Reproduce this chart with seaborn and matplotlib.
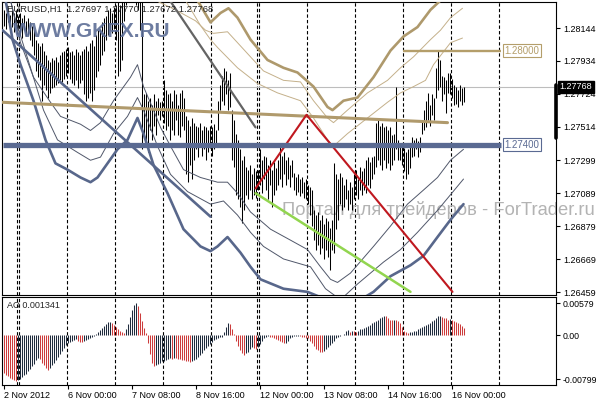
import numpy as np
import matplotlib
matplotlib.use("Agg")
import matplotlib.pyplot as plt
import matplotlib.transforms as mtrans
import seaborn as sns

# EURUSD H1, 2 Nov 2012 - 16 Nov 2012 (bar index = hour bar)
highs = [
    1.2826, 1.2824, 1.2827, 1.2823, 1.2826, 1.2824, 1.2826, 1.2822, 1.2824, 1.2821,
    1.2823, 1.2819, 1.2821, 1.2818, 1.2816, 1.2813, 1.2807, 1.2805, 1.2803, 1.2805,
    1.2800, 1.2797, 1.2794, 1.2793, 1.2795, 1.2794, 1.2796, 1.2793, 1.2797, 1.2799,
    1.2800, 1.2801, 1.2802, 1.2799, 1.2800, 1.2797, 1.2801, 1.2799, 1.2797, 1.2800,
    1.2801, 1.2803, 1.2800, 1.2805, 1.2807, 1.2803, 1.2810, 1.2813, 1.2814, 1.2818,
    1.2821, 1.2822, 1.2826, 1.2827, 1.2824, 1.2828, 1.2829, 1.2831, 1.2829, 1.2832,
    1.2838, 1.2845, 1.2851, 1.2857, 1.2854, 1.2851, 1.2848, 1.2845, 1.2842, 1.2835,
    1.2772, 1.2773, 1.2768, 1.2770, 1.2765, 1.2772, 1.2768, 1.2770, 1.2767, 1.2768,
    1.2781, 1.2775, 1.2772, 1.2773, 1.2768, 1.2775, 1.2772, 1.2765, 1.2773, 1.2775,
    1.2770, 1.2758, 1.2756, 1.2752, 1.2757, 1.2754, 1.2752, 1.2751, 1.2754, 1.2749,
    1.2752, 1.2751, 1.2749, 1.2752, 1.2751, 1.2753, 1.2749, 1.2768, 1.2778, 1.2784,
    1.2789, 1.2787, 1.2781, 1.2786, 1.2762, 1.2756, 1.2747, 1.2743, 1.2737, 1.2730,
    1.2733, 1.2726, 1.2724, 1.2727, 1.2721, 1.2725, 1.2723, 1.2724, 1.2737, 1.2730,
    1.2733, 1.2732, 1.2727, 1.2730, 1.2724, 1.2729, 1.2725, 1.2730, 1.2739, 1.2733,
    1.2735, 1.2730, 1.2732, 1.2727, 1.2730, 1.2722, 1.2719, 1.2721, 1.2718, 1.2719,
    1.2716, 1.2718, 1.2714, 1.2713, 1.2711, 1.2698, 1.2695, 1.2697, 1.2692, 1.2695,
    1.2689, 1.2693, 1.2691, 1.2687, 1.2692, 1.2728, 1.2721, 1.2718, 1.2722, 1.2719,
    1.2714, 1.2718, 1.2711, 1.2716, 1.2713, 1.2721, 1.2724, 1.2718, 1.2726, 1.2723,
    1.2725, 1.2730, 1.2732, 1.2729, 1.2732, 1.2733, 1.2754, 1.2756, 1.2752, 1.2754,
    1.2751, 1.2752, 1.2749, 1.2751, 1.2746, 1.2747, 1.2777, 1.2743, 1.2741, 1.2740,
    1.2738, 1.2735, 1.2737, 1.2740, 1.2745, 1.2743, 1.2744, 1.2742, 1.2745, 1.2756,
    1.2762, 1.2768, 1.2773, 1.2765, 1.2772, 1.2770, 1.2789, 1.2800, 1.2794, 1.2784,
    1.2783, 1.2781, 1.2786, 1.2786, 1.2782, 1.2778, 1.2777, 1.2775, 1.2778, 1.2776,
    1.2777,
]
lows = [
    1.2816, 1.2814, 1.2818, 1.2813, 1.2815, 1.2812, 1.2817, 1.2813, 1.2810, 1.2808,
    1.2813, 1.2809, 1.2810, 1.2807, 1.2803, 1.2797, 1.2787, 1.2783, 1.2781, 1.2768,
    1.2778, 1.2775, 1.2770, 1.2773, 1.2776, 1.2777, 1.2778, 1.2779, 1.2781, 1.2780,
    1.2782, 1.2784, 1.2786, 1.2782, 1.2779, 1.2778, 1.2781, 1.2776, 1.2779, 1.2781,
    1.2772, 1.2768, 1.2770, 1.2773, 1.2768, 1.2775, 1.2783, 1.2787, 1.2791, 1.2797,
    1.2800, 1.2807, 1.2810, 1.2813, 1.2811, 1.2814, 1.2807, 1.2784, 1.2787, 1.2794,
    1.2819, 1.2829, 1.2832, 1.2835, 1.2835, 1.2832, 1.2829, 1.2826, 1.2813, 1.2737,
    1.2746, 1.2740, 1.2735, 1.2749, 1.2743, 1.2752, 1.2746, 1.2759, 1.2756, 1.2758,
    1.2754, 1.2749, 1.2752, 1.2743, 1.2749, 1.2746, 1.2756, 1.2746, 1.2745, 1.2752,
    1.2749, 1.2721, 1.2716, 1.2727, 1.2718, 1.2730, 1.2737, 1.2732, 1.2740, 1.2733,
    1.2737, 1.2730, 1.2735, 1.2738, 1.2733, 1.2737, 1.2740, 1.2749, 1.2762, 1.2768,
    1.2765, 1.2772, 1.2762, 1.2764, 1.2730, 1.2726, 1.2708, 1.2705, 1.2700, 1.2690,
    1.2698, 1.2708, 1.2705, 1.2711, 1.2705, 1.2708, 1.2706, 1.2711, 1.2714, 1.2709,
    1.2718, 1.2711, 1.2705, 1.2714, 1.2700, 1.2708, 1.2711, 1.2714, 1.2718, 1.2713,
    1.2721, 1.2714, 1.2718, 1.2713, 1.2719, 1.2711, 1.2708, 1.2710, 1.2707, 1.2709,
    1.2706, 1.2705, 1.2702, 1.2695, 1.2688, 1.2679, 1.2673, 1.2676, 1.2670, 1.2674,
    1.2667, 1.2673, 1.2668, 1.2660, 1.2673, 1.2671, 1.2686, 1.2692, 1.2702, 1.2698,
    1.2700, 1.2705, 1.2698, 1.2702, 1.2698, 1.2705, 1.2708, 1.2705, 1.2711, 1.2708,
    1.2711, 1.2709, 1.2714, 1.2712, 1.2718, 1.2721, 1.2726, 1.2730, 1.2727, 1.2724,
    1.2730, 1.2725, 1.2728, 1.2724, 1.2727, 1.2730, 1.2737, 1.2730, 1.2730, 1.2727,
    1.2723, 1.2718, 1.2721, 1.2725, 1.2732, 1.2733, 1.2737, 1.2732, 1.2735, 1.2747,
    1.2749, 1.2751, 1.2756, 1.2752, 1.2759, 1.2756, 1.2770, 1.2775, 1.2777, 1.2768,
    1.2772, 1.2760, 1.2773, 1.2772, 1.2770, 1.2765, 1.2766, 1.2764, 1.2768, 1.2765,
    1.2767,
]

# Awesome Oscillator per bar
ao_values = [
    -0.0069, -0.0072, -0.0075, -0.0078, -0.0080, -0.0082, -0.0083, -0.0082,
    -0.0080, -0.0077, -0.0073, -0.0070, -0.0066, -0.0061, -0.0057, -0.0052, -0.0046, -0.0041,
    -0.0044, -0.0050, -0.0055, -0.0060, -0.0064,
    -0.0060, -0.0055, -0.0050, -0.0045, -0.0040, -0.0034, -0.0029, -0.0024, -0.0019, -0.0015,
    -0.0012, -0.0010, -0.0009, -0.0008, -0.0010, -0.0012, -0.0013, -0.0011,
    -0.0009, -0.0007, -0.0005, -0.0003, -0.0001,
    0.0002, 0.0005, 0.0009, 0.0013, 0.0017, 0.0020, 0.0023, 0.0024,
    0.0022, 0.0018, 0.0014, 0.0010, 0.0007, 0.0005, 0.0004,
    0.0010, 0.0020, 0.0032, 0.0045, 0.0055, 0.0058,
    0.0052, 0.0040, 0.0025, 0.0012, 0.0004,
    -0.0015, -0.0035, -0.0050, -0.0056,
    -0.0054, -0.0052, -0.0050, -0.0048, -0.0047, -0.0045, -0.0044, -0.0042, -0.0043, -0.0041,
    -0.0042, -0.0043, -0.0044, -0.0045, -0.0046, -0.0047, -0.0048, -0.0049, -0.0048, -0.0046,
    -0.0043, -0.0040, -0.0036, -0.0032, -0.0028, -0.0024, -0.0020, -0.0016, -0.0012, -0.0009,
    -0.0007, -0.0005, -0.0004, -0.0003,
    0.0005, 0.0014, 0.0022, 0.0020, 0.0010, 0.0002,
    -0.0010, -0.0020, -0.0028, -0.0033, -0.0036,
    -0.0033, -0.0030, -0.0026, -0.0022, -0.0024, -0.0026, -0.0021, -0.0016, -0.0010,
    -0.0005, -0.0003, -0.0002, -0.0003, -0.0004,
    -0.0005, -0.0007, -0.0009, -0.0011, -0.0013, -0.0015, -0.0015,
    -0.0010, -0.0006, -0.0003, -0.0002, -0.0001, -0.0001,
    -0.0002, -0.0003, -0.0004, -0.0005, -0.0006,
    -0.0010, -0.0015, -0.0020, -0.0025, -0.0028, -0.0030, -0.0031,
    -0.0029, -0.0026, -0.0022, -0.0018, -0.0014, -0.0010, -0.0006, -0.0003, -0.0001,
    0.0000, 0.0001,
    0.0007, 0.0009, 0.0006, 0.0008, 0.0007,
    0.0006, 0.0008, 0.0010, 0.0011, 0.0013, 0.0015, 0.0017, 0.0019, 0.0021, 0.0023,
    0.0025, 0.0027, 0.0030, 0.0033, 0.0035,
    0.0034, 0.0031, 0.0028, 0.0027, 0.0028, 0.0027, 0.0026, 0.0022, 0.0015, 0.0008,
    0.0005, 0.0004, 0.0005, 0.0006, 0.0007,
    0.0008, 0.0010, 0.0012, 0.0014, 0.0016, 0.0018, 0.0020, 0.0022, 0.0025, 0.0028,
    0.0031, 0.0034, 0.0035,
    0.0033, 0.0031, 0.0030, 0.0028, 0.0029, 0.0027, 0.0026, 0.0024, 0.0022, 0.0020,
    0.0017, 0.0013,
]
ao_current = 0.001341

# envelope bands (bar index, price)
upper_outer_idx = [91, 97, 103.5, 108.5, 112.5, 117, 123.5, 132, 140, 147, 155, 162, 164.5,
                   170, 177, 185, 193.5, 200, 207, 213.5, 218.5, 229.5]
upper_outer = [1.2845, 1.2832, 1.2818, 1.2824, 1.2827, 1.2821, 1.2807, 1.2794, 1.2789, 1.2786,
               1.2777, 1.2764, 1.2762, 1.2768, 1.2770, 1.2783, 1.2800, 1.2809, 1.2815, 1.2826,
               1.2832, 1.2842]
upper_mid_idx = [76, 86, 96, 101, 105, 112, 123.5, 130, 140, 148.5, 155, 162, 165, 172, 182,
                 192, 198.5, 205, 213.5, 218.5, 223.5, 229.5]
upper_mid = [1.2832, 1.2826, 1.2819, 1.2813, 1.2811, 1.2812, 1.2796, 1.2787, 1.2781, 1.2780,
             1.2768, 1.2757, 1.2754, 1.2762, 1.2773, 1.2781, 1.2789, 1.2796, 1.2807, 1.2813,
             1.2821, 1.2827]
upper_inner_idx = [91, 98.5, 103.5, 107, 117, 127, 137, 148.5, 155, 162, 165, 172, 182, 192,
                   198.5, 205, 211, 215, 223.5, 229.5]
upper_inner = [1.2832, 1.2816, 1.2807, 1.2802, 1.2789, 1.2779, 1.2773, 1.2768, 1.2757, 1.2743,
               1.2739, 1.2747, 1.2757, 1.2767, 1.2773, 1.2777, 1.2781, 1.2791, 1.2805, 1.2808]
lower_inner_idx = [1, 3.5, 8.5, 15, 23.5, 28.5, 38.5, 43.5, 48.5, 55, 63.5, 67, 70, 75, 78.5,
                   83.5, 90, 98.5, 107, 112, 117, 123.5, 133.5, 143.5, 152, 158.5, 163.5, 167,
                   173.5, 185, 193.5, 202, 210, 217, 223.5, 230]
lower_inner = [1.2842, 1.2832, 1.2805, 1.2783, 1.2767, 1.2758, 1.2753, 1.2749, 1.2754, 1.2768,
               1.2783, 1.2791, 1.2777, 1.2762, 1.2751, 1.2739, 1.2724, 1.2719, 1.2716, 1.2716,
               1.2709, 1.2697, 1.2686, 1.2679, 1.2673, 1.2662, 1.2654, 1.2652, 1.2658, 1.2675,
               1.2688, 1.2702, 1.2711, 1.2719, 1.2730, 1.2737]
lower_mid_idx = [2.5, 5, 13.5, 20, 27, 37, 43.5, 48.5, 55, 62, 67, 70, 77, 83.5, 92, 103.5,
                 110, 117, 123.5, 130, 140, 153.5, 161, 168.5, 177, 190, 198.5, 207, 217,
                 223.5, 230]
lower_mid = [1.2838, 1.2824, 1.2789, 1.2762, 1.2743, 1.2735, 1.2730, 1.2732, 1.2747, 1.2758,
             1.2770, 1.2762, 1.2739, 1.2721, 1.2710, 1.2702, 1.2704, 1.2695, 1.2684, 1.2675,
             1.2667, 1.2662, 1.2648, 1.2641, 1.2651, 1.2665, 1.2673, 1.2684, 1.2698, 1.2708,
             1.2718]
lower_outer_idx = [0, 2, 4.5, 8.5, 15, 21, 26, 32, 38.5, 43.5, 47, 52, 57, 62, 67, 70, 75, 82,
                   90, 98.5, 103.5, 107, 112, 118.5, 123.5, 128.5, 140, 152, 163.5, 178.5,
                   185, 193.5, 203.5, 210, 217, 223.5, 230]
lower_outer = [1.2838, 1.2826, 1.2807, 1.2791, 1.2768, 1.2743, 1.2728, 1.2724, 1.2719, 1.2716,
               1.2719, 1.2728, 1.2737, 1.2743, 1.2757, 1.2747, 1.2727, 1.2709, 1.2686, 1.2675,
               1.2672, 1.2675, 1.2681, 1.2671, 1.2662, 1.2654, 1.2648, 1.2646, 1.2640, 1.2641,
               1.2646, 1.2656, 1.2663, 1.2669, 1.2681, 1.2692, 1.2702]

# drawn objects
tan_trend_idx, tan_trend = [-0.5, 222], [1.2767, 1.2754]
slate_trend_idx, slate_trend = [-0.5, 103.5], [1.2813, 1.2694]
gray_trend_idx, gray_trend = [80, 126], [1.2838, 1.2751]
red_idx, red_vals = [126, 151.5, 224.5], [1.2712, 1.2759, 1.2646]
green_idx, green_vals = [126, 203.5], [1.2709, 1.2646]
level_low, level_low_span = 1.2740, [-0.5, 248.5]
level_high, level_high_span = 1.2800, [199.5, 248.5]
last_price = 1.27768
range_marker = [1.2744, 1.2778]

day_separators = [6.75, 7.5, 31.5, 55.75, 79.5, 103.5, 126.75, 127.5, 151.5, 175.5,
                  199.5, 223.5, 247.5]
time_tick_pos = [0, 32, 64, 96, 128, 160, 192, 224]
time_tick_labels = ["2 Nov 2012", "6 Nov 00:00", "7 Nov 08:00", "8 Nov 16:00",
                    "12 Nov 00:00", "13 Nov 08:00", "14 Nov 16:00", "16 Nov 00:00"]
price_ticks = [1.28144, 1.27934, 1.27724, 1.27514, 1.27299, 1.27089, 1.26879, 1.26669, 1.26459]
ao_ticks = [0.005796, 0.0, -0.007996]
ao_tick_labels = ["0.00579", "0.00", "-0.00799"]

sns.set_style("white")
plt.rcParams['font.family'] = ['Liberation Sans', 'DejaVu Sans']

TAN = '#ae996c'
TAN_THIN = '#c4b08a'
SLATE = '#58678b'
GRAY_THIN = '#50576a'
XLIM = (-0.75, 276.25)   # keeps the 1px bars on pixel centres

fig = plt.figure(figsize=(5.96, 4.0), dpi=100)
ax = fig.add_axes([2 / 596, 105 / 400, 554 / 596, 293 / 400])
ax2 = fig.add_axes([2 / 596, 15 / 400, 554 / 596, 88 / 400])

bar_idx = np.arange(len(highs))
ax.vlines(bar_idx, lows, highs, color='black', lw=0.75, zorder=2)

for s in day_separators:
    for a in (ax, ax2):
        a.axvline(s, color='black', lw=0.8, ls=(0, (3, 2)), zorder=1)

ax.axhline(last_price, color='#bdbdbd', lw=0.8, zorder=1.5)

bands = [
    (upper_outer_idx, upper_outer, TAN, 1.9),
    (upper_mid_idx, upper_mid, TAN_THIN, 0.7),
    (upper_inner_idx, upper_inner, TAN_THIN, 0.7),
    (lower_inner_idx, lower_inner, GRAY_THIN, 0.7),
    (lower_mid_idx, lower_mid, GRAY_THIN, 0.7),
    (lower_outer_idx, lower_outer, SLATE, 1.9),
]
for xs, ys, col, lw in bands:
    sns.lineplot(x=xs, y=ys, ax=ax, color=col, lw=lw, estimator=None, sort=False,
                 legend=False, zorder=3)

sns.lineplot(x=tan_trend_idx, y=tan_trend, ax=ax, color='#b09a6c', lw=2.2, zorder=4)
sns.lineplot(x=slate_trend_idx, y=slate_trend, ax=ax, color=SLATE, lw=1.9, zorder=4)
sns.lineplot(x=gray_trend_idx, y=gray_trend, ax=ax, color='#646464', lw=1.6, zorder=4)
sns.lineplot(x=red_idx, y=red_vals, ax=ax, color='#c0181f', lw=1.5, sort=False,
             estimator=None, zorder=4)
sns.lineplot(x=green_idx, y=green_vals, ax=ax, color='#92d54f', lw=1.8, zorder=4)

ax.plot(level_low_span, [level_low] * 2, color='#5a6a92', lw=3.8, solid_capstyle='butt', zorder=4)
ax.plot(level_high_span, [level_high] * 2, color='#b49e6a', lw=1.7, solid_capstyle='butt', zorder=4)
ax.text(250.5, level_high, f"{level_high:.5f}", fontsize=7, color='#b49e6a', va='center',
        ha='left', zorder=6,
        bbox=dict(boxstyle='square,pad=0.15', fc='white', ec='#b49e6a', lw=0.8))
ax.text(250.5, level_low, f"{level_low:.5f}", fontsize=7, color='#5a6a92', va='center',
        ha='left', zorder=6,
        bbox=dict(boxstyle='square,pad=0.15', fc='white', ec='#5a6a92', lw=0.8))

ax.set_xlim(*XLIM)
ax.set_ylim(1.26440, 1.28310)
ax.set_xticks([])
ax.yaxis.tick_right()
ax.set_yticks(price_ticks)
ax.set_yticklabels([f"{t:.5f}" for t in price_ticks], fontsize=6.5)
ax.tick_params(axis='y', length=3, width=0.8, pad=2, colors='black', right=True)

trans = mtrans.blended_transform_factory(ax.transAxes, ax.transData)
ax.plot([1.0, 1.0], range_marker, transform=trans, color='black', lw=2.6,
        clip_on=False, zorder=7)
ax.annotate(f"{last_price:.5f}", xy=(1.0, last_price), xycoords=trans,
            xytext=(2.5, 0), textcoords='offset points', ha='left', va='center',
            fontsize=6.5, color='white', annotation_clip=False, zorder=10,
            bbox=dict(boxstyle='square,pad=0.2', fc='black', ec='black'))

ax.text(5 / 554, 1 - 7.5 / 293, "EURUSD,H1  1.27697 1.27770 1.27672 1.27768",
        transform=ax.transAxes, fontsize=6.8, va='center', ha='left', zorder=8)
ax.text(11 / 554, 1 - 30 / 293, "WWW.GKFX.RU", transform=ax.transAxes, fontsize=15,
        fontweight='bold', color='#5d6e96', alpha=0.9, va='center', ha='left', zorder=7)
ax.text(280 / 554, 1 - 208 / 293, "Портал для трейдеров - ForTrader.ru",
        transform=ax.transAxes, fontsize=13.2, color='#b3b3b3', va='center', ha='left',
        clip_on=False, zorder=1.8)

# AO histogram
ao = np.array(ao_values)
prev = np.concatenate([[ao[0] + 1e-6], ao[:-1]])
ao_colors = np.where(ao < prev, '#cc3b3b', '#1e2b3c')
ax2.vlines(np.arange(len(ao)), 0, ao, colors=ao_colors, lw=0.75, zorder=2)
ax2.set_xlim(*XLIM)
ax2.set_ylim(-0.009074, 0.006897)
ax2.yaxis.tick_right()
ax2.set_yticks(ao_ticks)
ax2.set_yticklabels(ao_tick_labels, fontsize=6.3)
ax2.set_xticks(time_tick_pos)
ax2.set_xticklabels(time_tick_labels, fontsize=6.5)
for lbl in ax2.get_xticklabels():
    lbl.set_ha('left')
ax2.tick_params(axis='both', length=3, width=0.8, pad=1.5, colors='black',
                bottom=True, right=True)
ax2.text(5 / 554, 1 - 8 / 88, f"AO {ao_current:.6f}", transform=ax2.transAxes,
         fontsize=6.5, va='center', ha='left', zorder=5)

for a in (ax, ax2):
    for sp in a.spines.values():
        sp.set_color('black')
        sp.set_linewidth(0.8)

fig.savefig("out.png", dpi=100, facecolor='white')
